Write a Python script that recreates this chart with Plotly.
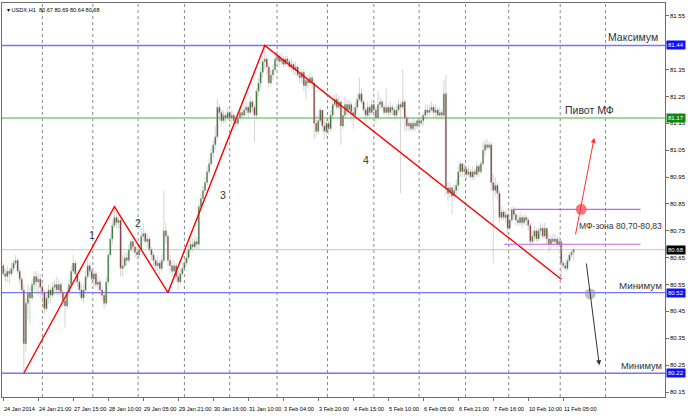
import plotly.graph_objects as go

# ---------------- data ----------------
first_open = 80.62
closes = [
    80.59, 80.58, 80.60, 80.59, 80.61, 80.63, 80.64, 80.60, 80.57, 80.53,
    80.33, 80.48, 80.52, 80.50, 80.55, 80.58, 80.56, 80.57, 80.54, 80.52,
    80.46, 80.50, 80.53, 80.51, 80.54, 80.55, 80.53, 80.55, 80.52, 80.49,
    80.47, 80.52, 80.55, 80.60, 80.63, 80.59, 80.56, 80.53, 80.50, 80.53,
    80.58, 80.62, 80.60, 80.57, 80.59, 80.55, 80.56, 80.53, 80.51, 80.48,
    80.56, 80.66, 80.72, 80.77, 80.80, 80.78, 80.79, 80.61, 80.62, 80.65,
    80.64, 80.68, 80.71, 80.69, 80.67, 80.66, 80.68, 80.73, 80.74, 80.71,
    80.72, 80.68, 80.66, 80.64, 80.62, 80.63, 80.61, 80.64, 80.75, 80.73,
    80.64, 80.62, 80.60, 80.62, 80.58, 80.56, 80.59, 80.61, 80.63, 80.65,
    80.68, 80.70, 80.69, 80.71, 80.70, 80.84, 80.87, 80.90, 80.93, 80.97,
    81.00, 81.04, 81.07, 81.10, 81.21, 81.19, 81.16, 81.18, 81.17, 81.19,
    81.17, 81.18, 81.16, 81.15, 81.17, 81.19, 81.18, 81.20, 81.21, 81.19,
    81.23, 81.21, 81.18, 81.27, 81.30, 81.34, 81.38, 81.39, 81.36, 81.30,
    81.33, 81.35, 81.39, 81.40, 81.38, 81.39, 81.37, 81.39, 81.38, 81.36,
    81.37, 81.35, 81.36, 81.33, 81.32, 81.34, 81.29, 81.31, 81.30, 81.32,
    81.30, 81.15, 81.12, 81.16, 81.20, 81.14, 81.12, 81.15, 81.13, 81.18,
    81.22, 81.24, 81.21, 81.23, 81.14, 81.18, 81.22, 81.20, 81.22, 81.19,
    81.18, 81.21, 81.24, 81.26, 81.23, 81.20, 81.18, 81.21, 81.19, 81.22,
    81.20, 81.17, 81.22, 81.23, 81.21, 81.19, 81.21, 81.19, 81.21, 81.20,
    81.18, 81.20, 81.22, 81.21, 81.23, 81.17, 81.14, 81.15, 81.13, 81.15,
    81.14, 81.16, 81.15, 81.16, 81.18, 81.20, 81.19, 81.20, 81.21, 81.19,
    81.20, 81.18, 81.19, 81.18, 81.26, 80.91, 80.89, 80.91, 80.88, 80.90,
    80.92, 80.97, 81.00, 80.97, 80.98, 80.96, 80.97, 80.95, 80.97, 80.96,
    80.99, 80.97, 81.00, 81.05, 81.07, 81.06, 81.07, 80.93, 80.90, 80.92,
    80.89, 80.80, 80.82, 80.80, 80.81, 80.76, 80.79, 80.83, 80.81, 80.79,
    80.78, 80.80, 80.78, 80.80, 80.79, 80.77, 80.71, 80.73, 80.75, 80.72,
    80.75, 80.76, 80.73, 80.76, 80.72, 80.70, 80.72, 80.71, 80.72, 80.70,
    80.71, 80.63, 80.62, 80.61, 80.64, 80.66, 80.67, 80.68,
]
highs = [
    80.63, 80.61, 80.62, 80.61, 80.63, 80.64, 80.66, 80.65, 80.61, 80.58,
    80.55, 80.50, 80.55, 80.54, 80.57, 80.60, 80.60, 80.59, 80.59, 80.56,
    80.53, 80.52, 80.55, 80.54, 80.56, 80.57, 80.58, 80.57, 80.56, 80.53,
    80.52, 80.54, 80.57, 80.62, 80.66, 80.64, 80.60, 80.57, 80.55, 80.55,
    80.60, 80.64, 80.63, 80.61, 80.60, 80.60, 80.58, 80.57, 80.54, 80.52,
    80.58, 80.67, 80.74, 80.79, 80.84, 80.82, 80.81, 80.80, 80.66, 80.67,
    80.67, 80.70, 80.72, 80.72, 80.70, 80.69, 80.70, 80.76, 80.78, 80.75,
    80.74, 80.73, 80.69, 80.67, 80.65, 80.66, 80.64, 80.66, 80.90, 80.78,
    80.74, 80.66, 80.64, 80.64, 80.63, 80.60, 80.61, 80.63, 80.65, 80.67,
    80.70, 80.72, 80.72, 80.73, 80.73, 80.85, 80.89, 80.92, 80.95, 80.99,
    81.02, 81.06, 81.09, 81.14, 81.24, 81.22, 81.20, 81.20, 81.19, 81.21,
    81.20, 81.20, 81.19, 81.18, 81.19, 81.21, 81.20, 81.22, 81.23, 81.22,
    81.25, 81.24, 81.22, 81.28, 81.32, 81.36, 81.40, 81.44, 81.40, 81.37,
    81.35, 81.37, 81.41, 81.42, 81.41, 81.41, 81.40, 81.40, 81.40, 81.39,
    81.39, 81.38, 81.38, 81.37, 81.35, 81.35, 81.35, 81.33, 81.33, 81.34,
    81.33, 81.31, 81.18, 81.18, 81.21, 81.20, 81.16, 81.17, 81.16, 81.20,
    81.24, 81.26, 81.26, 81.25, 81.23, 81.20, 81.25, 81.24, 81.24, 81.23,
    81.21, 81.23, 81.26, 81.32, 81.28, 81.24, 81.21, 81.23, 81.22, 81.24,
    81.23, 81.21, 81.27, 81.25, 81.24, 81.22, 81.28, 81.22, 81.23, 81.22,
    81.21, 81.22, 81.24, 81.23, 81.35, 81.24, 81.18, 81.17, 81.16, 81.17,
    81.16, 81.17, 81.17, 81.18, 81.19, 81.22, 81.22, 81.22, 81.23, 81.22,
    81.22, 81.21, 81.21, 81.20, 81.31, 81.33, 80.93, 80.93, 80.92, 80.92,
    80.94, 80.99, 81.01, 81.00, 81.00, 80.99, 80.99, 80.98, 80.99, 80.98,
    81.01, 81.00, 81.01, 81.08, 81.09, 81.09, 81.08, 81.08, 80.96, 80.95,
    80.93, 80.90, 80.84, 80.83, 80.83, 80.82, 80.80, 80.84, 80.84, 80.82,
    80.81, 80.82, 80.81, 80.81, 80.81, 80.80, 80.78, 80.75, 80.77, 80.76,
    80.76, 80.78, 80.77, 80.78, 80.76, 80.74, 80.73, 80.74, 80.74, 80.73,
    80.73, 80.67, 80.64, 80.63, 80.65, 80.67, 80.68, 80.69,
]
lows = [
    80.58, 80.56, 80.56, 80.55, 80.58, 80.60, 80.62, 80.59, 80.55, 80.52,
    80.22, 80.30, 80.42, 80.40, 80.49, 80.53, 80.52, 80.51, 80.50, 80.48,
    80.44, 80.45, 80.48, 80.48, 80.50, 80.52, 80.51, 80.51, 80.50, 80.47,
    80.39, 80.46, 80.51, 80.54, 80.59, 80.57, 80.54, 80.51, 80.49, 80.48,
    80.52, 80.57, 80.58, 80.55, 80.54, 80.54, 80.53, 80.51, 80.49, 80.46,
    80.47, 80.55, 80.65, 80.70, 80.76, 80.76, 80.76, 80.58, 80.58, 80.61,
    80.62, 80.63, 80.67, 80.67, 80.65, 80.64, 80.65, 80.67, 80.71, 80.70,
    80.69, 80.67, 80.64, 80.62, 80.60, 80.60, 80.59, 80.60, 80.63, 80.70,
    80.62, 80.59, 80.58, 80.58, 80.56, 80.53, 80.55, 80.58, 80.60, 80.62,
    80.64, 80.67, 80.67, 80.68, 80.68, 80.68, 80.83, 80.85, 80.89, 80.92,
    80.96, 80.99, 81.02, 81.05, 81.09, 81.16, 81.14, 81.15, 81.15, 81.16,
    81.15, 81.15, 81.14, 81.13, 81.14, 81.16, 81.16, 81.17, 81.18, 81.17,
    81.18, 81.19, 81.08, 81.17, 81.25, 81.28, 81.32, 81.35, 81.33, 81.28,
    81.29, 81.31, 81.34, 81.37, 81.36, 81.37, 81.36, 81.36, 81.36, 81.35,
    81.34, 81.33, 81.33, 81.32, 81.30, 81.30, 81.27, 81.24, 81.28, 81.29,
    81.28, 81.09, 81.10, 81.11, 81.15, 81.12, 81.09, 81.10, 81.11, 81.12,
    81.17, 81.21, 81.20, 81.20, 81.07, 81.13, 81.17, 81.18, 81.19, 81.16,
    81.13, 81.17, 81.20, 81.23, 81.22, 81.19, 81.16, 81.17, 81.17, 81.18,
    81.16, 81.15, 81.17, 81.20, 81.20, 81.18, 81.18, 81.17, 81.18, 81.18,
    81.16, 81.17, 81.19, 80.89, 81.20, 81.12, 81.12, 81.12, 81.12, 81.12,
    81.12, 81.13, 81.13, 81.14, 81.14, 81.17, 81.17, 81.18, 81.19, 81.17,
    81.17, 81.16, 81.17, 81.16, 81.17, 80.88, 80.86, 80.87, 80.81, 80.86,
    80.88, 80.90, 80.95, 80.95, 80.95, 80.94, 80.95, 80.94, 80.94, 80.94,
    80.95, 80.95, 80.96, 80.99, 81.03, 81.05, 81.05, 80.90, 80.63, 80.88,
    80.87, 80.78, 80.79, 80.79, 80.78, 80.74, 80.75, 80.78, 80.79, 80.77,
    80.77, 80.77, 80.76, 80.77, 80.77, 80.75, 80.69, 80.70, 80.71, 80.71,
    80.71, 80.73, 80.72, 80.72, 80.70, 80.67, 80.68, 80.69, 80.70, 80.68,
    80.69, 80.57, 80.61, 80.60, 80.60, 80.63, 80.65, 80.64,
]
opens = [first_open] + closes[:-1]
bars = list(range(len(closes)))

time_labels = ["24 Jan 2014", "24 Jan 21:00", "27 Jan 15:00", "28 Jan 10:00",
               "29 Jan 05:00", "29 Jan 21:00", "30 Jan 16:00", "31 Jan 10:00",
               "3 Feb 04:00", "3 Feb 20:00", "4 Feb 15:00", "5 Feb 10:00",
               "6 Feb 05:00", "6 Feb 21:00", "7 Feb 16:00", "10 Feb 10:00",
               "11 Feb 05:00"]
label_bars = [0, 17, 34, 51, 68, 85, 102, 119, 136, 153, 170, 187, 204, 221, 238, 255, 272]
day_bars = [19, 43.5, 65.5, 88, 110, 133, 157.5, 180, 202, 224.5, 245.5, 270.5, 292.5]

price_ticks = [80.15, 80.25, 80.35, 80.45, 80.55, 80.65, 80.75, 80.85, 80.95,
               81.05, 81.15, 81.25, 81.35, 81.45, 81.55]

level_max = 81.44
level_pivot = 81.17
level_last = 80.68
level_min1 = 80.52
level_min2 = 80.22
zone_low, zone_high = 80.70, 80.83

wave_bars = [10, 54, 80, 127, 271]
wave_prices = [80.22, 80.84, 80.52, 81.44, 80.57]
wave_names = ["1", "2", "3", "4"]
wave_name_bars = [43, 65.5, 106.5, 176]
wave_name_prices = [80.735, 80.78, 80.885, 81.015]

# ---------------- figure ----------------
FONT = "Liberation Sans, Arial, sans-serif"
GRAY = "#a9a9a9"
fig = go.Figure()

fig.add_trace(go.Candlestick(
    x=bars, open=opens, high=highs, low=lows, close=closes,
    increasing=dict(line=dict(color=GRAY, width=0.5), fillcolor="#0f6a0f"),
    decreasing=dict(line=dict(color=GRAY, width=0.5), fillcolor="#7e1414"),
    whiskerwidth=0, showlegend=False, hoverinfo="skip",
))

# zigzag
fig.add_trace(go.Scatter(x=wave_bars, y=wave_prices, mode="lines",
                         line=dict(color="#ff0000", width=1.4),
                         showlegend=False, hoverinfo="skip"))

# circles
fig.add_trace(go.Scatter(x=[280.7], y=[zone_high], mode="markers",
                         marker=dict(size=11, color="rgba(255,70,70,0.75)"),
                         showlegend=False, hoverinfo="skip"))
fig.add_trace(go.Scatter(x=[285.1], y=[80.515], mode="markers",
                         marker=dict(size=11, color="rgba(150,150,150,0.6)"),
                         showlegend=False, hoverinfo="skip"))

shapes = []
for d in day_bars:
    shapes.append(dict(type="line", xref="x", yref="paper", x0=d, x1=d, y0=0, y1=1,
                       line=dict(color="#8a8a8a", width=1, dash="dot"), layer="below"))
for lvl, col, w in [(level_max, "#7474ff", 1.4), (level_pivot, "#86c886", 1.4),
                    (level_last, "#d0d0d0", 1.2), (level_min1, "#7474ff", 1.4),
                    (level_min2, "#7474ff", 1.4)]:
    shapes.append(dict(type="line", xref="paper", yref="y", x0=0, x1=1, y0=lvl, y1=lvl,
                       line=dict(color=col, width=w), layer="below"))
shapes.append(dict(type="line", xref="x", yref="y", x0=247.7, x1=309.5, y0=zone_high, y1=zone_high,
                   line=dict(color="#c860f0", width=1.2)))
shapes.append(dict(type="line", xref="x", yref="y", x0=243.3, x1=309.5, y0=zone_low, y1=zone_low,
                   line=dict(color="#c860f0", width=1.2)))

TXT = dict(family=FONT, size=10.5, color="#333333")
SMALL = dict(family=FONT, size=5.6, color="#000000")
PRICE = dict(family=FONT, size=6, color="#000000")
ann = []
for name, b, p in zip(wave_names, wave_name_bars, wave_name_prices):
    ann.append(dict(x=b, y=p, xref="x", yref="y", text=name, showarrow=False, font=TXT))
ann += [
    dict(x=306, y=level_max, xref="x", yref="y", text="Максимум", showarrow=False,
         font=TXT, yanchor="bottom", xanchor="center"),
    dict(x=284.5, y=level_pivot, xref="x", yref="y", text="Пивот МФ", showarrow=False,
         font=TXT, yanchor="bottom", xanchor="center"),
    dict(x=321, y=80.768, xref="x", yref="y", text="МФ-зона 80,70-80,83", showarrow=False,
         font=dict(family=FONT, size=8.6, color="#333333"), xanchor="right"),
    dict(x=321, y=level_min1, xref="x", yref="y", text="Минимум", showarrow=False,
         font=dict(family=FONT, size=9.8, color="#333333"), yanchor="bottom", xanchor="right"),
    dict(x=321, y=level_min2, xref="x", yref="y", text="Минимум", showarrow=False,
         font=dict(family=FONT, size=9.4, color="#333333"), yanchor="bottom", xanchor="right"),
    # arrows
    dict(x=287, y=81.096, ax=277.8, ay=80.731, xref="x", yref="y", axref="x", ayref="y",
         text="", showarrow=True, arrowhead=2, arrowsize=1, arrowwidth=1, arrowcolor="#ff3030"),
    dict(x=289.5, y=80.25, ax=283.1, ay=80.634, xref="x", yref="y", axref="x", ayref="y",
         text="", showarrow=True, arrowhead=2, arrowsize=1, arrowwidth=1, arrowcolor="#333333"),
    # title
    dict(x=0, y=1, xref="paper", yref="paper", xanchor="left", yanchor="top", xshift=3, yshift=-2,
         text="▾ USDX,H1  80.67 80.69 80.64 80.68", showarrow=False, font=SMALL),
]
# time labels (left aligned at their bar, as in MetaTrader)
for b, t in zip(label_bars, time_labels):
    ann.append(dict(x=b, y=0, xref="x", yref="paper", xanchor="left", yanchor="top",
                    xshift=-1, yshift=-7, text=t, showarrow=False, font=SMALL))
# price labels (81.45 is hidden under the 81.44 level box in the original)
for v in price_ticks:
    if abs(v - level_max) < 0.03:
        continue
    ann.append(dict(x=1, y=v, xref="paper", yref="y", xanchor="left", yanchor="middle",
                    xshift=3, text=f"{v:.2f}", showarrow=False, font=PRICE))
for lvl, bg in [(level_max, "#1010ff"), (level_pivot, "#118811"), (level_last, "#000000"),
                (level_min1, "#1010ff"), (level_min2, "#1010ff")]:
    ann.append(dict(x=1, y=lvl, xref="paper", yref="y", xanchor="left", yanchor="middle",
                    text=f"{lvl:.2f}", showarrow=False, bgcolor=bg, borderpad=1, xshift=1,
                    font=dict(family=FONT, size=6, color="#ffffff")))

fig.update_layout(
    width=688, height=418,
    margin=dict(l=2, r=23, t=3, b=21, autoexpand=False),
    paper_bgcolor="white", plot_bgcolor="white", boxgap=0.1,
    shapes=shapes, annotations=ann, showlegend=False,
    xaxis=dict(range=[-0.6, 321.4], rangeslider=dict(visible=False), showgrid=False,
               zeroline=False, showline=True, linecolor="#6e6e6e", linewidth=1, mirror=True,
               tickmode="array", tickvals=label_bars, showticklabels=False,
               ticks="outside", ticklen=3, tickcolor="#6e6e6e", automargin=False),
    yaxis=dict(range=[80.1315, 81.598], side="right", showgrid=False, zeroline=False,
               showline=True, linecolor="#6e6e6e", linewidth=1, mirror=True,
               tickmode="array", tickvals=price_ticks, showticklabels=False,
               ticks="outside", ticklen=3, tickcolor="#6e6e6e", automargin=False),
)

fig.write_html("out.html", config={"displayModeBar": False},
               post_script="document.body.style.margin='0';document.body.style.overflow='hidden';")
